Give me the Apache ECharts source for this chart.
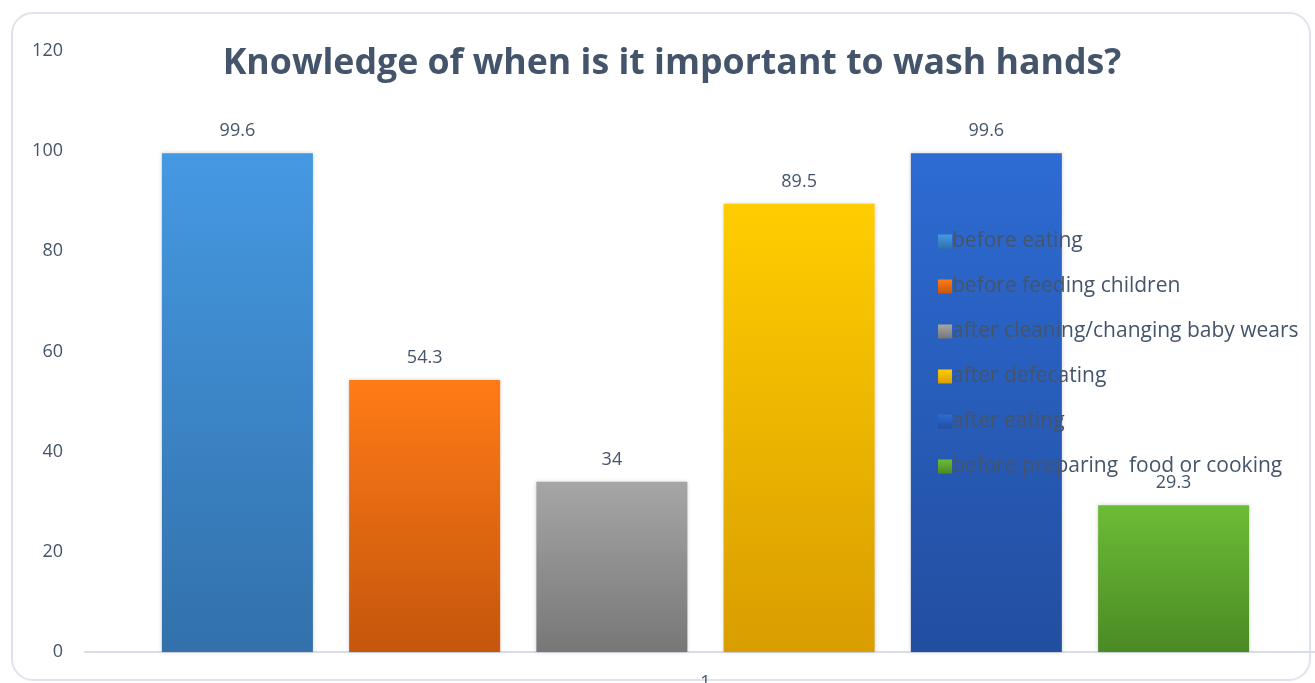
<!DOCTYPE html>
<html>
<head>
<meta charset="utf-8">
<script src="https://cdn.jsdelivr.net/npm/echarts@6/dist/echarts.min.js"></script>
<style>
  html, body { margin: 0; padding: 0; background: #fff; }
  .frame {
    position: absolute; left: 11px; top: 12px; right: 4px; bottom: 2px;
    border: 2px solid #dfe4ec; border-radius: 22px;
  }
  #chart { position: absolute; left: 0; top: 0; width: 1315px; height: 683px; }
</style>
</head>
<body>
<div class="frame"></div>
<div id="chart"></div>
<script>
  const categories = ["1"];
  const seriesNames = [
    "before eating",
    "before feeding children",
    "after cleaning/changing baby wears",
    "after defecating",
    "after eating",
    "before preparing  food or cooking"
  ];
  const seriesValues = [99.6, 54.3, 34, 89.5, 99.6, 29.3];
  const yTicks = [0, 20, 40, 60, 80, 100, 120];

  // top / bottom of each bar gradient
  const colors = [
    ["#4599e2", "#3271ab"],
    ["#ff7b17", "#c5560c"],
    ["#a6a6a6", "#777777"],
    ["#ffcd00", "#d99d00"],
    ["#2d6bd3", "#224ea0"],
    ["#6cbc36", "#4a8a24"]
  ];
  const textColor = "#44546a";

  const chart = echarts.init(document.getElementById("chart"), null, { renderer: "canvas" });

  const series = seriesNames.map((name, i) => ({
    name: name,
    type: "bar",
    data: [seriesValues[i]],
    barWidth: 151,
    barGap: "24%",
    itemStyle: {
      color: new echarts.graphic.LinearGradient(0, 0, 0, 1, [
        { offset: 0, color: colors[i][0] },
        { offset: 1, color: colors[i][1] }
      ]),
      shadowColor: "rgba(0,0,0,0.18)",
      shadowBlur: 4
    },
    label: {
      show: true,
      position: "top",
      distance: 13,
      color: textColor,
      fontSize: 18,
      fontFamily: "Open Sans"
    }
  }));

  chart.setOption({
    backgroundColor: "transparent",
    animation: false,
    title: {
      text: "Knowledge of when is it important to wash hands?",
      left: 667,
      textAlign: "center",
      top: 41,
      textStyle: {
        color: textColor,
        fontSize: 35.7,
        fontWeight: "bold",
        fontFamily: "Open Sans"
      }
    },
    legend: {
      orient: "vertical",
      left: 933,
      top: 226,
      itemWidth: 14,
      itemHeight: 14,
      itemGap: 24,
      icon: "rect",
      data: seriesNames,
      textStyle: { color: textColor, fontSize: 21, fontFamily: "Open Sans", padding: [0, 0, 0, -5] }
    },
    grid: { left: 85, top: 51, width: 1241, bottom: 31, outerBoundsMode: "none" },
    xAxis: {
      type: "category",
      data: categories,
      axisLine: { lineStyle: { color: "#d9dee6", width: 2 } },
      axisTick: { show: false },
      axisLabel: { color: textColor, fontSize: 18, margin: 22, fontFamily: "Open Sans" }
    },
    yAxis: {
      type: "value",
      min: yTicks[0],
      max: yTicks[yTicks.length - 1],
      interval: 20,
      splitLine: { show: false },
      axisLine: { show: false },
      axisTick: { show: false },
      axisLabel: { color: textColor, fontSize: 18, margin: 22, fontFamily: "Open Sans" }
    },
    series: series
  });
</script>
</body>
</html>
